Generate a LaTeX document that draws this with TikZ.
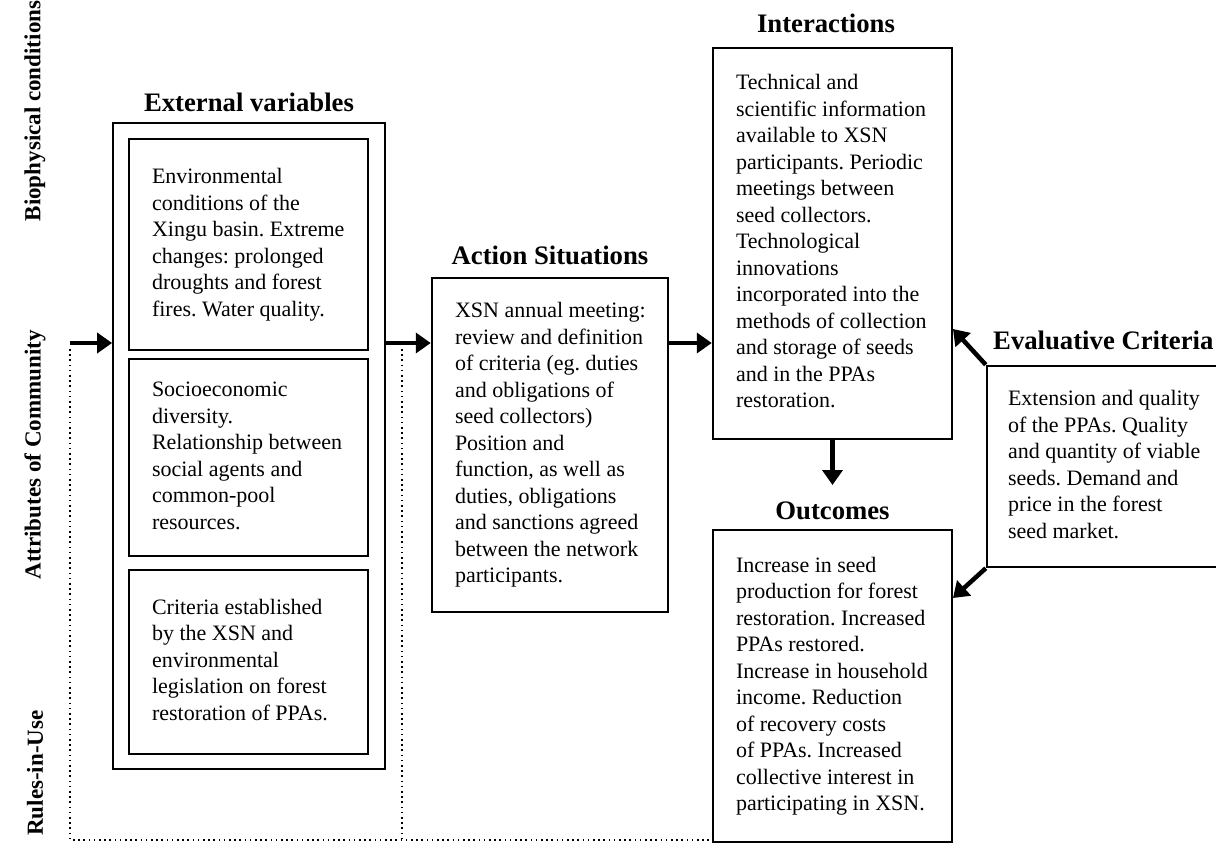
\documentclass[tikz,border=0pt]{standalone}
\usepackage{fontspec}
\setmainfont{Liberation Serif}
\usetikzlibrary{arrows.meta}
\newcommand{\boxlines}[2]{\makebox[#1][l]{\begin{tabular}{@{}l@{}}#2\end{tabular}}}
\begin{document}
\begin{tikzpicture}[x=1pt,y=-1pt,
  body/.style={font=\fontsize{22}{26.5}\selectfont\frenchspacing, align=left, inner xsep=23pt, inner ysep=0pt},
  boxA/.style={body, draw, line width=2.5pt, minimum width=239pt},
  innerbox/.style={boxA, line width=2.8pt},
  titletext/.style={font=\bfseries\fontsize{26.7}{30}\selectfont, inner sep=0pt},
  sidelabel/.style={font=\bfseries\fontsize{23}{28}\selectfont, rotate=90, inner sep=0pt},
  arr/.style={line width=4.5pt, -{Triangle[length=15pt,width=20pt]}},
  dots/.style={line width=1.6pt, dash pattern=on 1.6pt off 3.6pt}
]
\useasboundingbox (0,0) rectangle (1216,843);

% side labels
\node[sidelabel] (lbio) at (35,111) {Biophysical conditions};
\node[sidelabel] (lattr) at (35,455) {Attributes of Community};
\node[sidelabel] (lrules) at (35,773) {Rules-in-Use};

% external variables
\node[draw, line width=1.8pt, minimum width=272pt, minimum height=646pt, inner sep=0pt] (ext) at (249,446) {};
\node[titletext] (text) at (249,102) {External variables};
\node[innerbox, minimum height=211pt] (env) at (248.5,244.5) {\boxlines{193pt}{Environmental\\conditions of the\\Xingu basin. Extreme\\changes: prolonged\\droughts and forest\\fires. Water quality.}};
\node[innerbox, minimum height=197pt] (soc) at (248.5,457.5) {\boxlines{193pt}{Socioeconomic\\diversity.\\Relationship between\\social agents and\\common-pool\\resources.}};
\node[innerbox, minimum height=184pt] (crit) at (248.5,662) {\boxlines{193pt}{Criteria established\\by the XSN and\\environmental\\legislation on forest\\restoration of PPAs.}};

% action situations
\node[titletext] (tact) at (550,255) {Action Situations};
\node[boxA, minimum width=236pt, minimum height=334pt] (act) at (550,445) {\boxlines{190pt}{XSN annual meeting:\\review and definition\\of criteria (eg. duties\\and obligations of\\seed collectors)\\Position and\\function, as well as\\duties, obligations\\and sanctions agreed\\between the network\\participants.}};

% interactions
\node[titletext] (tint) at (826,23) {Interactions};
\node[boxA, minimum height=391pt] (inter) at (832.5,243.5) {\boxlines{193pt}{Technical and\\scientific information\\available to XSN\\participants. Periodic\\meetings between\\seed collectors.\\Technological\\innovations\\incorporated into the\\methods of collection\\and storage of seeds\\and in the PPAs\\restoration.}};

% outcomes
\node[titletext] (tout) at (832.5,511) {Outcomes};
\node[boxA, minimum height=312pt] (outc) at (832.5,686) {\boxlines{193pt}{Increase in seed\\production for forest\\restoration. Increased\\PPAs restored.\\Increase in household\\income. Reduction\\of recovery costs\\of PPAs. Increased\\collective interest in\\participating in XSN.}};

% evaluative criteria
\node[titletext, anchor=west] (teval) at (993,340) {Evaluative Criteria};
\node[boxA, inner xsep=21pt, minimum width=253pt, minimum height=201pt] (eval) at (1113.5,466.5) {\boxlines{211pt}{Extension and quality\\of the PPAs. Quality\\and quantity of viable\\seeds. Demand and\\price in the forest\\seed market.}};

% coordinates
\coordinate (lin) at (70,343);
\coordinate (dotA) at (70,349);
\coordinate (dotB) at (70,840);
\coordinate (dotC) at (713,840);
\coordinate (dotD) at (402,349);
\coordinate (dotE) at (402,840);
\coordinate (otip) at (832.5,485);
\coordinate (etipA) at (953,329);
\coordinate (etipB) at (953,598);

% connectors
\draw[arr] (lin) -- (lin -| ext.west);
\draw[arr] (lin -| ext.east) -- (lin -| act.west);
\draw[arr] (lin -| act.east) -- (lin -| inter.west);
\draw[arr] (inter.south) -- (otip);
\draw[arr] (eval.north west) -- (etipA);
\draw[arr] (eval.south west) -- (etipB);

\draw[dots] (dotA) -- (dotB) -- (dotC);
\draw[dots] (dotD) -- (dotE);
\end{tikzpicture}
\end{document}
